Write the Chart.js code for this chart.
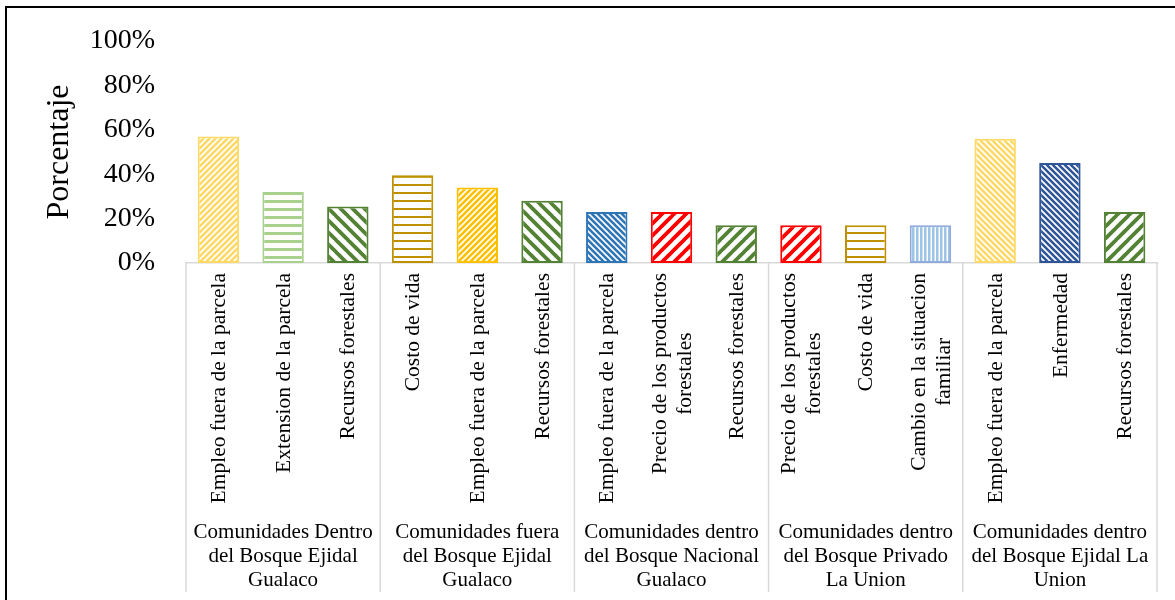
<!DOCTYPE html>
<html><head><meta charset="utf-8">
<script src="https://cdn.jsdelivr.net/npm/chart.js@4.4.1/dist/chart.umd.min.js"></script>
<style>html,body{margin:0;padding:0;background:#fff;} canvas{display:block;}</style>
</head><body>
<canvas id="c" width="1175" height="600"></canvas>
<script>
// ---- data ----
const groupLabels = [
  ["Comunidades Dentro", "del Bosque Ejidal", "Gualaco"],
  ["Comunidades fuera", "del Bosque Ejidal", "Gualaco"],
  ["Comunidades dentro", "del Bosque Nacional", "Gualaco"],
  ["Comunidades dentro", "del Bosque Privado", "La Union"],
  ["Comunidades dentro", "del Bosque Ejidal La", "Union"]
];
const groupSizes = [3, 3, 3, 3, 3];
const categories = [
  ["Empleo fuera de la parcela"], ["Extension de la parcela"], ["Recursos forestales"],
  ["Costo de vida"], ["Empleo fuera de la parcela"], ["Recursos forestales"],
  ["Empleo fuera de la parcela"], ["Precio de los productos", "forestales"], ["Recursos forestales"],
  ["Precio de los productos", "forestales"], ["Costo de vida"], ["Cambio en la situacion", "familiar"],
  ["Empleo fuera de la parcela"], ["Enfermedad"], ["Recursos forestales"]
];
const values = [57, 32, 25.5, 39.5, 34, 28, 23, 23, 17, 17, 17, 17, 56, 45, 23];
const yTicks = [0, 20, 40, 60, 80, 100];
const yTitle = "Porcentaje";

// ---- styles ----
const barColors = ["#FFD966", "#A9D18E", "#548235", "#BF9000", "#FFC000", "#548235",
  "#2E75B6", "#FF0000", "#548235", "#FF0000", "#BF9000", "#9DC3E6",
  "#FFD966", "#2F5597", "#548235"];
const borderColors = ["#FFD966", "#A9D18E", "#548235", "#BF9000", "#FFC000", "#548235",
  "#2E75B6", "#FF0000", "#548235", "#FF0000", "#BF9000", "#8FAADC",
  "#FFD966", "#2F5597", "#548235"];
const barPatterns = ["fineUp", "horizWide", "wideDown", "horizThin", "fineUp", "wideDown",
  "fineDown", "wideUp", "wideUp", "wideUp", "horizThin", "vert",
  "fineDown", "fineDown", "wideUp"];

function makePattern(kind, color) {
  const c = document.createElement('canvas');
  let w = 8, h = 8;
  if (kind === 'fineUp' || kind === 'fineDown') { w = h = 6; }
  else if (kind === 'wideUp' || kind === 'wideDown') { w = h = 12; }
  else if (kind === 'vert') { w = 4; h = 4; }
  c.width = w; c.height = h;
  const g = c.getContext('2d');
  g.fillStyle = '#fff'; g.fillRect(0, 0, w, h);
  g.fillStyle = color; g.strokeStyle = color;
  if (kind === 'horizWide') g.fillRect(0, 0, w, 3);
  else if (kind === 'horizThin') g.fillRect(0, 0, w, 2);
  else if (kind === 'vert') g.fillRect(0, 0, 2.5, h);
  else {
    const s = w;
    g.lineWidth = (kind.startsWith('fine')) ? 2.6 : 3.8;
    g.beginPath();
    for (let k = -1; k <= 1; k++) {
      if (kind.endsWith('Up')) { g.moveTo(k * s - 1, s + 1); g.lineTo(k * s + s + 1, -1); }
      else { g.moveTo(k * s - 1, -1); g.lineTo(k * s + s + 1, s + 1); }
    }
    g.stroke();
  }
  return g.createPattern(c, 'repeat');
}

const SERIF = '"Liberation Serif", "Times New Roman", serif';

const decor = {
  id: 'decor',
  afterDraw(chart) {
    const { ctx, chartArea, scales: { x } } = chart;
    const step = x.getPixelForValue(1) - x.getPixelForValue(0);
    const base = chartArea.bottom;
    ctx.save();
    // outer frame
    ctx.strokeStyle = '#000'; ctx.lineWidth = 2;
    ctx.beginPath(); ctx.moveTo(6, 600); ctx.lineTo(6, 7); ctx.lineTo(1175, 7); ctx.stroke();
    // group dividers
    ctx.strokeStyle = '#D9D9D9'; ctx.lineWidth = 1.5;
    const bounds = [0]; let acc = 0;
    groupSizes.forEach(n => { acc += n; bounds.push(acc); });
    bounds.forEach(b => {
      const px = x.getPixelForValue(b) - step / 2;
      ctx.beginPath(); ctx.moveTo(px, base); ctx.lineTo(px, base + 329); ctx.stroke();
    });
    // category labels (rotated)
    ctx.fillStyle = '#000';
    ctx.font = '21.5px ' + SERIF;
    ctx.textBaseline = 'middle';
    ctx.textAlign = 'center';
    const lh = 25;
    categories.forEach((lines, i) => {
      const cx = x.getPixelForValue(i);
      const maxW = Math.max(...lines.map(t => ctx.measureText(t).width));
      ctx.save();
      ctx.translate(cx, base + 10);
      ctx.rotate(-Math.PI / 2);
      lines.forEach((t, j) => {
        const off = (j - (lines.length - 1) / 2) * lh;
        ctx.fillText(t, -maxW / 2, off + 1);
      });
      ctx.restore();
    });
    // group labels
    ctx.font = '21px ' + SERIF;
    ctx.textAlign = 'center';
    ctx.textBaseline = 'middle';
    let start = 0;
    groupLabels.forEach((lines, gi) => {
      const n = groupSizes[gi];
      const gx = (x.getPixelForValue(start) + x.getPixelForValue(start + n - 1)) / 2;
      lines.forEach((t, j) => ctx.fillText(t, gx, base + 269 + j * 24));
      start += n;
    });
    ctx.restore();
  }
};

new Chart(document.getElementById('c'), {
  type: 'bar',
  data: {
    labels: categories,
    datasets: [{
      data: values,
      backgroundColor: barPatterns.map((p, i) => makePattern(p, barColors[i])),
      borderColor: borderColors,
      borderWidth: 2,
      borderSkipped: false,
      barPercentage: 0.64,
      categoryPercentage: 1.0
    }]
  },
  options: {
    responsive: false,
    devicePixelRatio: 1,
    animation: false,
    layout: { padding: { top: 41, right: 18, left: 0, bottom: 0 } },
    plugins: { legend: { display: false }, tooltip: { enabled: false } },
    scales: {
      x: {
        ticks: { display: false },
        grid: { display: false, drawTicks: false },
        border: { display: true, color: '#D9D9D9', width: 1.5 },
        afterFit: s => { s.height = 337; s.paddingLeft = 0; s.paddingRight = 0; }
      },
      y: {
        min: 0, max: 100,
        afterBuildTicks: s => { s.ticks = yTicks.map(v => ({ value: v })); },
        ticks: {
          callback: v => v + '%',
          color: '#000',
          font: { family: SERIF, size: 28 },
          padding: 31
        },
        grid: { display: false, drawTicks: false },
        border: { display: false },
        title: {
          display: true, text: yTitle, color: '#000',
          font: { family: SERIF, size: 32 },
          padding: { top: 40, bottom: 0 }
        },
        afterFit: s => { s.width = 186; s.paddingTop = 0; s.paddingBottom = 0; }
      }
    }
  },
  plugins: [decor]
});
</script>
</body></html>
